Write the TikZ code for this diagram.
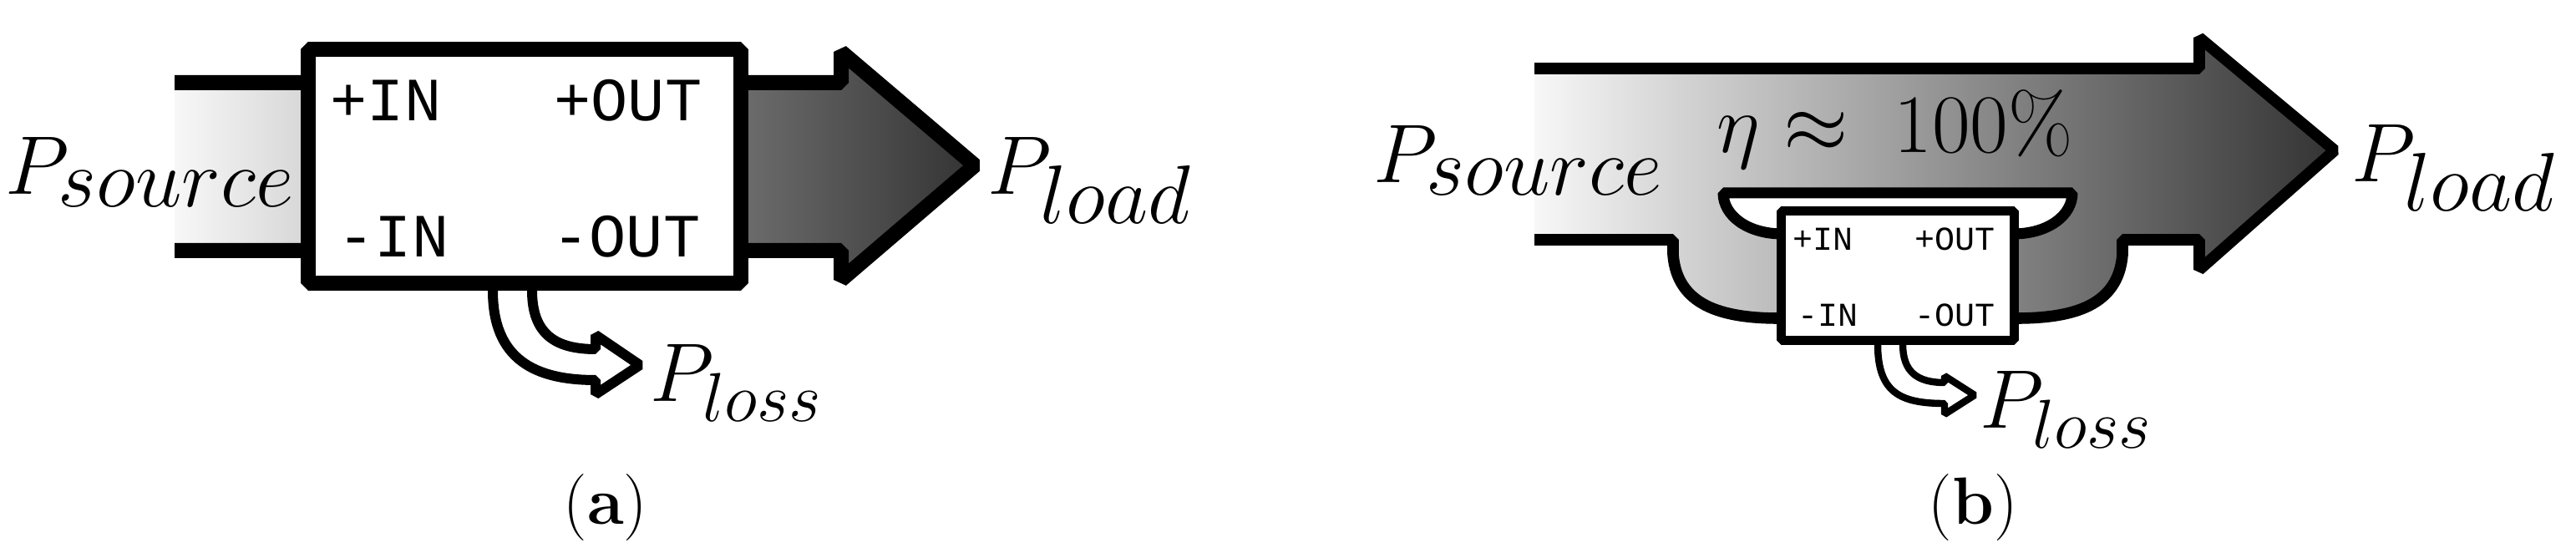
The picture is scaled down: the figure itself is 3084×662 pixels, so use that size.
\documentclass[tikz,border=0pt]{standalone}
\usepackage{fontspec}
\newfontfamily\lblfont{Liberation Mono}
\DeclareMathSizes{31.5}{31.5}{23}{16}
\DeclareMathSizes{29.3}{29.3}{21.5}{15}
\DeclareMathSizes{28.5}{28.5}{21}{15}
\definecolor{gradL}{gray}{0.97}
\definecolor{gradR}{gray}{0.2}
\tikzset{
  bigline/.style={line width=#1, line join=bevel},
  shadefill/.style={left color=gradL, right color=gradR, draw=none},
  convbox/.style={draw, fill=white, line join=bevel, inner sep=0pt},
  lbla/.style={font=\lblfont\fontsize{18.4}{22}\selectfont, inner sep=0pt},
  lblb/.style={font=\lblfont\fontsize{10}{12}\selectfont, inner sep=0pt},
  pbig/.style={font=\fontsize{31.5}{38}\selectfont, inner sep=0pt, anchor=base west},
  ploss/.style={font=\fontsize{#1}{34}\selectfont, inner sep=0pt, anchor=base west},
  capt/.style={font=\fontsize{20}{24}\selectfont, inner sep=0pt, anchor=base},
}
\begin{document}
\begin{tikzpicture}[x=0.25pt, y=-0.25pt]
\useasboundingbox (0,0) rectangle (3084,662);

% ================= panel (a) =================
\shade[shadefill] (209,99) -- (1007,99) -- (1007,62) -- (1167,198) -- (1007,335) -- (1007,300) -- (209,300) -- cycle;
\draw[bigline=4.5pt] (209,99) -- (1007,99) -- (1007,62) -- (1167,198) -- (1007,335) -- (1007,300) -- (209,300);

% loss arrow (a)
\draw[bigline=3pt, fill=white] (590,330) -- (590,348) .. controls (590,430) and (640,455) .. (713,455)
  -- (713,472) -- (766,437) -- (713,401) -- (713,418)
  .. controls (665,418) and (637,400) .. (637,348) -- (637,330);

% converter box (a)
\node[convbox, line width=4.5pt, minimum width=129.5pt, minimum height=69.875pt] (boxA) at (628,199.25) {};
\node[lbla, anchor=base west] (inA)   at (395,145) {+IN};
\node[lbla, anchor=base east] (outA)  at (841,145) {+OUT};
\node[lbla, anchor=base west] (ninA)  at (404,308) {-IN};
\node[lbla, anchor=base east] (noutA) at (839,308) {-OUT};

\node[pbig] (psA) at (6,233) {$P_{source}$};
\node[pbig] (plA) at (1182,233) {$P_{load}$};
\node[ploss=29.3] (plossA) at (778,481) {$P_{loss}$};
\node[capt] (capA) at (725,628) {(\textbf{a})};

% ================= panel (b) =================
\shade[shadefill] (1837,82) -- (2633,82) -- (2633,45) -- (2795,180) -- (2633,323) -- (2633,287) -- (2541,287) -- (2541,305)
  .. controls (2536,365) and (2484,381) .. (2414,381) -- (2130,381)
  .. controls (2060,381) and (2008,365) .. (2003,305) -- (2003,287) -- (1837,287) -- cycle;
\draw[bigline=3.4pt] (1837,82) -- (2633,82) -- (2633,45) -- (2795,180) -- (2633,323) -- (2633,287) -- (2541,287) -- (2541,305)
  .. controls (2536,365) and (2484,381) .. (2414,381) -- (2130,381)
  .. controls (2060,381) and (2008,365) .. (2003,305) -- (2003,287) -- (1837,287);

% white cup above the box
\draw[bigline=3.25pt, fill=white] (2134,280) .. controls (2092,280) and (2063,258) .. (2063,231)
  -- (2481,231) .. controls (2481,258) and (2452,280) .. (2410,280);

% loss arrow (b)
\draw[bigline=2.1pt, fill=white] (2248,400) -- (2248,412) .. controls (2248,470) and (2275,483) .. (2328,483)
  -- (2328,496) -- (2364,473) -- (2328,450) -- (2328,458)
  .. controls (2295,458) and (2278,445) .. (2278,412) -- (2278,400);

% converter box (b)
\node[convbox, line width=2.75pt, minimum width=69.75pt, minimum height=38.75pt] (boxB) at (2272,330) {};
\node[lblb, anchor=base west] (inB)   at (2146,300) {+IN};
\node[lblb, anchor=base east] (outB)  at (2389,300) {+OUT};
\node[lblb, anchor=base west] (ninB)  at (2152,391) {-IN};
\node[lblb, anchor=base east] (noutB) at (2389,391) {-OUT};

\node[font=\fontsize{25}{30}\selectfont, inner sep=0pt, anchor=base west] (eta) at (2055,183) {$\eta \approx \; 100\%$};
\node[pbig] (psB) at (1644,219) {$P_{source}$};
\node[pbig] (plB) at (2815,218) {$P_{load}$};
\node[ploss=28.5] (plossB) at (2370,513) {$P_{loss}$};
\node[capt] (capB) at (2362,628) {(\textbf{b})};
\end{tikzpicture}
\end{document}
